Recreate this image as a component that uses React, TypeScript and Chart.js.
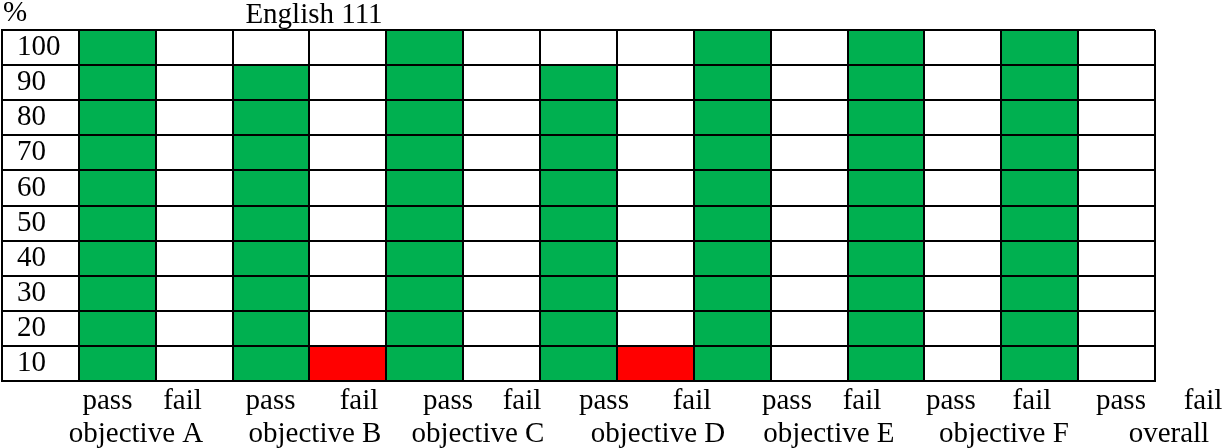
import React, { useEffect, useRef } from 'react';
import { Chart, registerables } from 'chart.js';

Chart.register(...registerables);

// ---- data ----
const objectives = ['objective A', 'objective B', 'objective C', 'objective D', 'objective E', 'objective F', 'overall'];
const outcomes = ['pass', 'fail'];
const passValues = [100, 90, 100, 90, 100, 100, 100];
const failValues = [0, 10, 0, 10, 0, 0, 0];
const yTickLabels = ['100', '90', '80', '70', '60', '50', '40', '30', '20', '10'];
const chartTitle = 'English 111';
const unitLabel = '%';

// ---- styles / layout ----
const PASS_COLOR = '#00B050';
const FAIL_COLOR = '#FF0000';
const LINE_COLOR = '#000000';
const FONT_FAMILY = '"Liberation Serif", "Times New Roman", serif';
const FONT_SIZE = 29;
// horizontal placement of the texts below/above the table, in category units of the x scale
const OUTCOME_SLOTS = [0.872, 1.848, 2.993, 4.144, 5.302, 6.265, 7.331, 8.476, 9.712, 10.688, 11.845, 12.899, 14.057, 15.124];
const OBJECTIVE_SLOTS = [1.243, 3.572, 5.692, 8.034, 10.258, 12.535, 14.681];
const TITLE_SLOT = 3.559;

// first category is the row-label column of the table
const columnLabels: string[] = [''];
const passSeries: (number | null)[] = [null];
const failSeries: (number | null)[] = [null];
objectives.forEach((obj, i) => {
  columnLabels.push(obj + ' ' + outcomes[0]);
  passSeries.push(passValues[i]);
  failSeries.push(null);
  columnLabels.push(obj + ' ' + outcomes[1]);
  passSeries.push(null);
  failSeries.push(failValues[i]);
});

const tableLabelsPlugin = {
  id: 'tableLabels',
  afterDraw(chart: any) {
    const { ctx, chartArea } = chart;
    const x = chart.scales.x;
    ctx.save();
    ctx.fillStyle = '#000';
    ctx.font = `${FONT_SIZE}px ${FONT_FAMILY}`;
    ctx.textBaseline = 'alphabetic';
    ctx.textAlign = 'left';
    ctx.fillText(unitLabel, chartArea.left + 1, chartArea.top - 9);
    ctx.textAlign = 'center';
    ctx.fillText(chartTitle, x.getPixelForValue(TITLE_SLOT), chartArea.top - 7);
    OUTCOME_SLOTS.forEach((slot, i) => {
      ctx.fillText(outcomes[i % 2], x.getPixelForValue(slot), chartArea.bottom + 27.5);
    });
    OBJECTIVE_SLOTS.forEach((slot, i) => {
      ctx.fillText(objectives[i], x.getPixelForValue(slot), chartArea.bottom + 61);
    });
    ctx.restore();
  },
};

export default function App() {
  const canvasRef = useRef<HTMLCanvasElement | null>(null);

  useEffect(() => {
    if (!canvasRef.current) return;
    const chart = new Chart(canvasRef.current, {
      type: 'bar',
      data: {
        labels: columnLabels,
        datasets: [
          {
            label: outcomes[0],
            data: passSeries,
            backgroundColor: PASS_COLOR,
            borderWidth: 0,
            barPercentage: 1,
            categoryPercentage: 1,
            grouped: false,
          } as any,
          {
            label: outcomes[1],
            data: failSeries,
            backgroundColor: FAIL_COLOR,
            borderWidth: 0,
            barPercentage: 1,
            categoryPercentage: 1,
            grouped: false,
          } as any,
        ],
      },
      options: {
        responsive: false,
        animation: false,
        events: [],
        layout: { padding: { left: 2, right: 68, top: 30, bottom: 67 } },
        plugins: {
          legend: { display: false },
          tooltip: { enabled: false },
          title: { display: false },
        },
        scales: {
          x: {
            type: 'category',
            offset: true,
            ticks: { display: false },
            grid: { offset: true, color: LINE_COLOR, lineWidth: 2, drawTicks: false, z: 1 },
            border: { display: true, color: LINE_COLOR, width: 2, z: 1 },
          } as any,
          y: {
            type: 'linear',
            position: 'left',
            min: 0,
            max: 100,
            ticks: { display: false, stepSize: 10 },
            grid: { color: LINE_COLOR, lineWidth: 2, drawTicks: false, z: 1 },
            border: { display: true, color: LINE_COLOR, width: 2, z: 1 },
          } as any,
          yLabels: {
            type: 'category',
            position: 'left',
            labels: yTickLabels,
            offset: true,
            ticks: {
              mirror: true,
              padding: 15,
              autoSkip: false,
              z: 2,
              color: '#000',
              font: { family: FONT_FAMILY, size: FONT_SIZE },
            },
            grid: { display: false, drawTicks: false },
            border: { display: false },
            afterFit: (scale: any) => {
              scale.width = 0;
              scale.paddingTop = 0;
              scale.paddingBottom = 0;
              scale.paddingLeft = 0;
              scale.paddingRight = 0;
            },
          } as any,
        },
      },
      plugins: [tableLabelsPlugin],
    });
    return () => chart.destroy();
  }, []);

  return (
    <div style={{ position: 'fixed', left: 0, top: 0, width: 1223, height: 448, background: '#fff' }}>
      <canvas ref={canvasRef} width={1223} height={448} style={{ display: 'block', width: 1223, height: 448 }} />
    </div>
  );
}
